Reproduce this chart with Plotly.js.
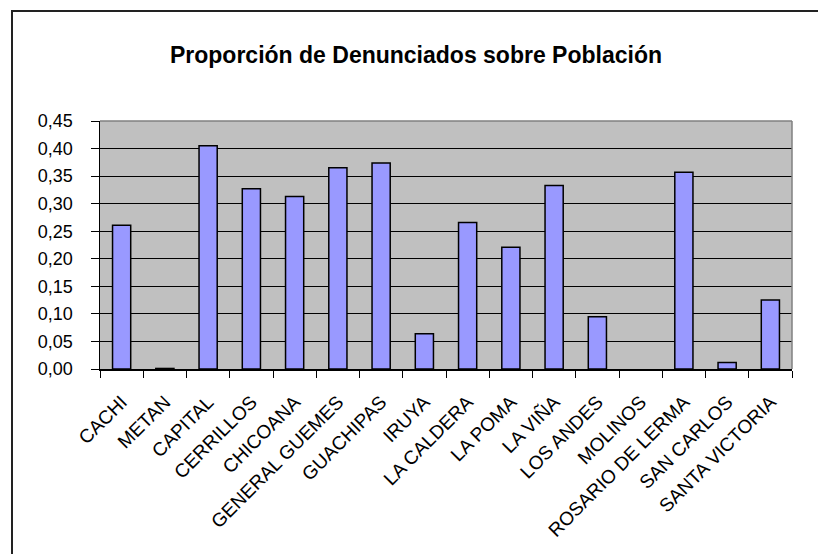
<!DOCTYPE html>
<html>
<head>
<meta charset="utf-8">
<script src="https://cdn.plot.ly/plotly-3.0.1.min.js"></script>
<style>
html,body{margin:0;padding:0;background:#fff;}
#chart{width:818px;height:554px;}
</style>
</head>
<body>
<div id="chart"></div>
<script>
const categories = ["CACHI","METAN","CAPITAL","CERRILLOS","CHICOANA","GENERAL GUEMES","GUACHIPAS","IRUYA","LA CALDERA","LA POMA","LA VIÑA","LOS ANDES","MOLINOS","ROSARIO DE LERMA","SAN CARLOS","SANTA VICTORIA"];
const proporcion = [0.261, 0.001, 0.405, 0.327, 0.313, 0.365, 0.374, 0.064, 0.266, 0.221, 0.333, 0.095, 0, 0.357, 0.012, 0.125];
const yTicks = [0,0.05,0.10,0.15,0.20,0.25,0.30,0.35,0.40,0.45];
const titleText = "Proporción de Denunciados sobre Población";

const lineWidths = proporcion.map(v => v > 0 ? 1.5 : 0);

const trace = {
  type: 'bar',
  x: categories,
  y: proporcion,
  marker: {color: '#9999FF', line: {color: '#000000', width: lineWidths}},
  hoverinfo: 'x+y'
};

const font = 'Arial, "Liberation Sans", sans-serif';

const layout = {
  width: 818, height: 554,
  margin: {l: 100, r: 26, t: 121, b: 185, pad: 0},
  paper_bgcolor: '#ffffff',
  plot_bgcolor: '#C0C0C0',
  separators: ',.',
  bargap: 0.58,
  showlegend: false,
  font: {family: font, color: '#000', size: 17},
  title: {
    text: '<b>' + titleText + '</b>',
    font: {family: font, size: 23, color: '#000'},
    xref: 'container', yref: 'container',
    x: 416/818, xanchor: 'center',
    y: 1 - 55/554, yanchor: 'middle'
  },
  xaxis: {
    type: 'category',
    tickangle: -45,
    tickson: 'boundaries',
    ticks: 'outside', ticklen: 7, tickwidth: 1, tickcolor: '#000',
    showline: true, linecolor: '#000', linewidth: 1.5,
    showgrid: false,
    tickfont: {family: font, size: 19, color: '#000'},
    ticklabelstandoff: 13
  },
  yaxis: {
    range: [0, 0.45],
    tickvals: yTicks,
    tickformat: '.2f',
    ticks: 'outside', ticklen: 8, tickwidth: 1, tickcolor: '#000',
    showline: true, linecolor: '#000', linewidth: 1.5,
    showgrid: true, gridcolor: '#000', gridwidth: 1,
    zeroline: false,
    tickfont: {family: font, size: 18, color: '#000'},
    ticklabelstandoff: 14
  },
  shapes: [
    {type: 'line', xref: 'paper', yref: 'paper', x0: 0, x1: 1, y0: 1, y1: 1, line: {color: '#808080', width: 1.5}, layer: 'above'},
    {type: 'line', xref: 'paper', yref: 'paper', x0: 1, x1: 1, y0: 0, y1: 1, line: {color: '#808080', width: 1.5}, layer: 'above'},
    {type: 'rect', xref: 'paper', yref: 'paper', x0: (12-100)/692, x1: (840-100)/692, y0: (369-570)/248, y1: (369-11)/248, line: {color: '#222', width: 2}, fillcolor: 'rgba(0,0,0,0)', layer: 'above'}
  ]
};

Plotly.newPlot('chart', [trace], layout, {displayModeBar: false, staticPlot: true});
</script>
</body>
</html>
